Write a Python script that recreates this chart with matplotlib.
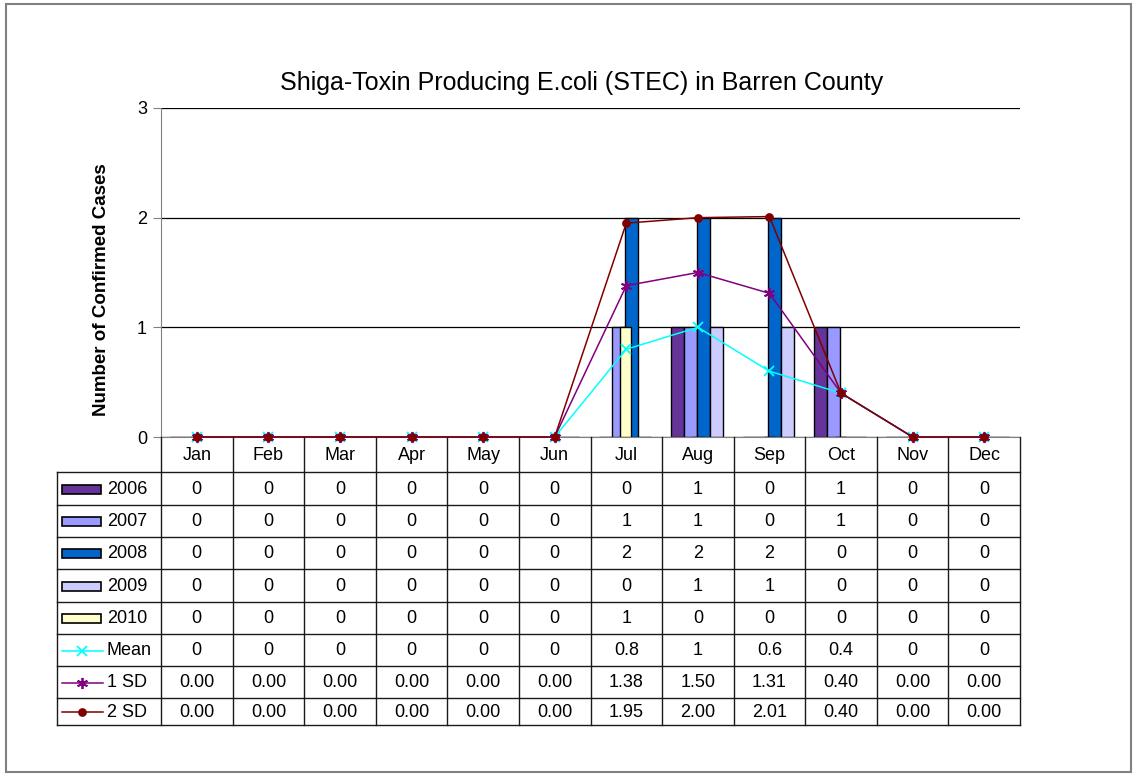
import matplotlib.pyplot as plt
import numpy as np
from matplotlib.lines import Line2D
from matplotlib.patches import Rectangle

plt.rcParams["font.family"] = ["Liberation Sans", "DejaVu Sans"]

months = ["Jan", "Feb", "Mar", "Apr", "May", "Jun", "Jul", "Aug", "Sep", "Oct", "Nov", "Dec"]
years = ["2006", "2007", "2008", "2009", "2010"]
cases_2006 = [0, 0, 0, 0, 0, 0, 0, 1, 0, 1, 0, 0]
cases_2007 = [0, 0, 0, 0, 0, 0, 1, 1, 0, 1, 0, 0]
cases_2008 = [0, 0, 0, 0, 0, 0, 2, 2, 2, 0, 0, 0]
cases_2009 = [0, 0, 0, 0, 0, 0, 0, 1, 1, 0, 0, 0]
cases_2010 = [0, 0, 0, 0, 0, 0, 1, 0, 0, 0, 0, 0]
mean = [0, 0, 0, 0, 0, 0, 0.8, 1, 0.6, 0.4, 0, 0]
sd1 = [0, 0, 0, 0, 0, 0, 1.38, 1.50, 1.31, 0.40, 0, 0]
sd2 = [0, 0, 0, 0, 0, 0, 1.95, 2.00, 2.01, 0.40, 0, 0]

bar_colors = ["#663399", "#9999FF", "#0066CC", "#CCCCFF", "#FFFFCC"]
line_styles = [
    ("Mean", mean, "#00FFFF", "x", 7),
    ("1 SD", sd1, "#800080", (6, 2, 0), 8),
    ("2 SD", sd2, "#800000", "o", 5),
]

W, H = 1135, 776
FS = 13


def fig_box(left, top, right, bottom):
    return [left / W, 1 - bottom / H, (right - left) / W, (bottom - top) / H]


fig = plt.figure(figsize=(W / 100, H / 100), dpi=100)
fig.patches.append(Rectangle((6 / W, 1 - 772 / H), 1125 / W, 768 / H, transform=fig.transFigure,
                             fill=False, edgecolor="#808080", linewidth=1.5))

ax = fig.add_axes(fig_box(161, 108, 1020, 437))
x = np.arange(len(months))
w = 0.18
series = [cases_2006, cases_2007, cases_2008, cases_2009]
for i, vals in enumerate(series):
    ax.bar(x + (i - 1.5) * w - 0.015, vals, width=w, color=bar_colors[i],
           edgecolor="black", linewidth=1, zorder=2)
# 2010 sits on a secondary axis in the original, centred on the category
ax.bar(x - 0.005, cases_2010, width=0.155, color=bar_colors[4], edgecolor="black",
       linewidth=1, zorder=3)

for name, vals, color, marker, ms in line_styles:
    ax.plot(x, vals, color=color, marker=marker, markersize=ms, linewidth=1.1,
            markeredgewidth=1.3, zorder=4, clip_on=False)

ax.set_xlim(-0.5, 11.5)
ax.set_ylim(0, 3)
ax.set_yticks([0, 1, 2, 3])
ax.set_xticks([])
ax.tick_params(axis="y", direction="out", length=6, color="#808080", labelsize=FS, pad=4)
ax.grid(axis="y", color="black", linewidth=0.9, zorder=0)
for side in ["top", "right"]:
    ax.spines[side].set_visible(False)
ax.spines["left"].set_color("#808080")
ax.spines["bottom"].set_color("#808080")
fig.text(582 / W, 1 - 83 / H, "Shiga-Toxin Producing E.coli (STEC) in Barren County",
         ha="center", va="center", fontsize=18)
fig.text(101 / W, 1 - 290 / H, "Number of Confirmed Cases", rotation=90, ha="center",
         va="center", fontsize=13.5, fontweight="bold")

# data table under the chart
cat_px = 859 / 12
tab = fig.add_axes(fig_box(57, 437, 1020, 726))
tab.set_xlim(-0.5 - 104 / cat_px, 11.5)
tab.set_ylim(726, 437)
tab.axis("off")
left = -0.5 - 104 / cat_px

row_edges = [437, 472, 505, 537, 569, 602, 634, 666, 698, 725]
lc = "#1a1a1a"
for yy in row_edges[1:]:
    tab.plot([left, 11.5], [yy, yy], color=lc, linewidth=1, clip_on=False)
for b in np.arange(-0.5, 12.0, 1.0):
    tab.plot([b, b], [437, 725], color=lc, linewidth=1, clip_on=False)
tab.plot([left, left], [472, 725], color=lc, linewidth=1, clip_on=False)

for j, m in enumerate(months):
    tab.text(j, (row_edges[0] + row_edges[1]) / 2 + 1, m, ha="center", va="center", fontsize=FS)

rows = []
for i, yr in enumerate(years):
    vals = series[i] if i < 4 else cases_2010
    rows.append((yr, [f"{v:g}" for v in vals]))
rows.append(("Mean", [f"{v:g}" for v in mean]))
rows.append(("1 SD", [f"{v:.2f}" for v in sd1]))
rows.append(("2 SD", [f"{v:.2f}" for v in sd2]))

sw_l = left + 5 / cat_px
sw_r = left + 44 / cat_px
for r, (label, cells) in enumerate(rows):
    yc = (row_edges[r + 1] + row_edges[r + 2]) / 2 + 1
    if r < 5:
        tab.add_patch(Rectangle((sw_l, yc - 4.5), sw_r - sw_l, 9, facecolor=bar_colors[r],
                                edgecolor="black", linewidth=1.2, clip_on=False))
    else:
        _, _, color, marker, ms = line_styles[r - 5]
        tab.add_line(Line2D([sw_l, sw_r + 2 / cat_px], [yc, yc], color=color, linewidth=1.1,
                            clip_on=False))
        tab.plot([(sw_l + sw_r) / 2], [yc], marker=marker, color=color, markersize=ms,
                 markeredgewidth=1.3, clip_on=False)
    tab.text(left + 50 / cat_px, yc, label, ha="left", va="center", fontsize=FS)
    for j, c in enumerate(cells):
        tab.text(j, yc, c, ha="center", va="center", fontsize=FS)

fig.savefig("out.png", dpi=100)
